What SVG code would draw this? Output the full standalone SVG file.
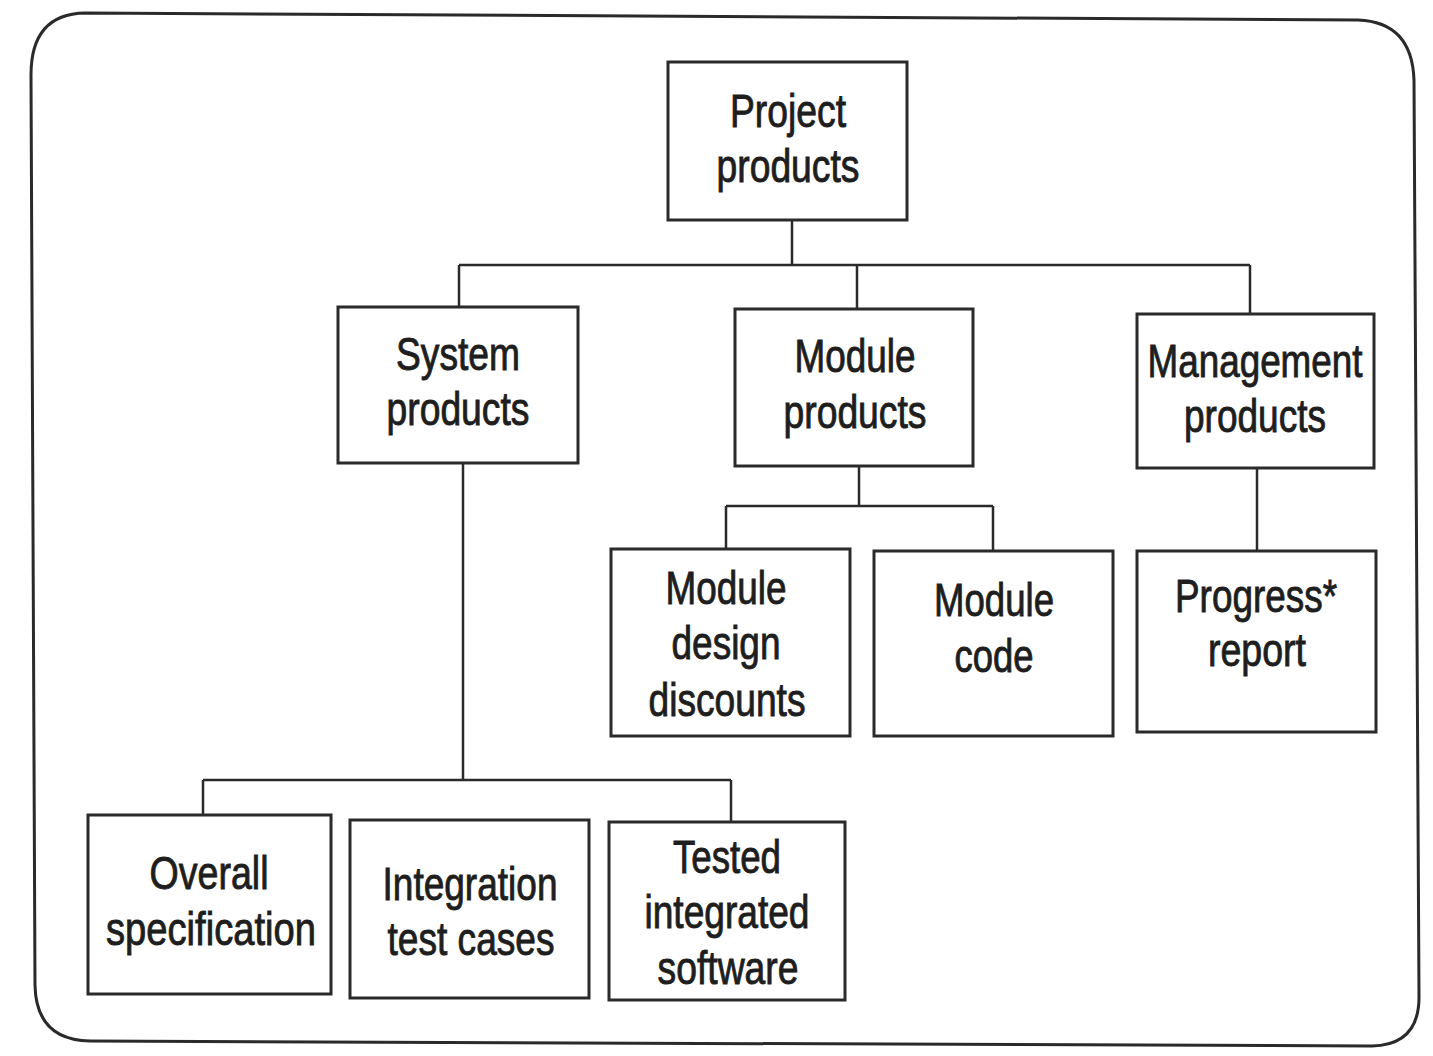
<svg xmlns="http://www.w3.org/2000/svg" width="1433" height="1056" viewBox="0 0 1433 1056">
<style>
.box{fill:#ffffff;stroke:#2a2a2a;stroke-width:3}
.ln{fill:none;stroke:#2a2a2a;stroke-width:2.5}
.t{font-family:"Liberation Sans",Arial,sans-serif;font-size:46px;fill:#1e1e1e;stroke:#1e1e1e;stroke-width:0.9;text-anchor:middle}
</style>
<rect width="1433" height="1056" fill="#ffffff"/>
<path d="M 85 13 L 1358 20 Q 1412 22 1414 80 L 1419 995 Q 1420 1045 1372 1046 L 90 1041 Q 36 1040 35 985 L 31 75 Q 31 14 85 13 Z" fill="none" stroke="#2a2a2a" stroke-width="3"/>
<g id="connectors">
<path class="ln" d="M 792 220 V 265 M 459 265 H 1250 M 459 265 V 307 M 857 265 V 309 M 1250 265 V 314"/>
<path class="ln" d="M 463 463 V 780 M 203 780 H 731 M 203 780 V 815 M 731 780 V 822"/>
<path class="ln" d="M 859 466 V 506 M 726 506 H 993 M 726 506 V 549 M 993 506 V 551"/>
<path class="ln" d="M 1257 468 V 551"/>
</g>
<g id="project-products">
<rect class="box" x="668" y="62" width="239" height="158"/>
<text class="t" x="788" y="127" textLength="116" lengthAdjust="spacingAndGlyphs">Project</text>
<text class="t" x="788" y="182" textLength="143" lengthAdjust="spacingAndGlyphs">products</text>
</g>
<g id="system-products">
<rect class="box" x="338" y="307" width="240" height="156"/>
<text class="t" x="458" y="370" textLength="124" lengthAdjust="spacingAndGlyphs">System</text>
<text class="t" x="458" y="425" textLength="143" lengthAdjust="spacingAndGlyphs">products</text>
</g>
<g id="module-products">
<rect class="box" x="735" y="309" width="238" height="157"/>
<text class="t" x="855" y="372" textLength="121" lengthAdjust="spacingAndGlyphs">Module</text>
<text class="t" x="855" y="428" textLength="143" lengthAdjust="spacingAndGlyphs">products</text>
</g>
<g id="management-products">
<rect class="box" x="1137" y="314" width="237" height="154"/>
<text class="t" x="1255" y="377" textLength="215" lengthAdjust="spacingAndGlyphs">Management</text>
<text class="t" x="1255" y="432" textLength="142" lengthAdjust="spacingAndGlyphs">products</text>
</g>
<g id="module-design-discounts">
<rect class="box" x="611" y="549" width="239" height="187"/>
<text class="t" x="726" y="604" textLength="121" lengthAdjust="spacingAndGlyphs">Module</text>
<text class="t" x="726" y="659" textLength="109" lengthAdjust="spacingAndGlyphs">design</text>
<text class="t" x="727" y="716" textLength="157" lengthAdjust="spacingAndGlyphs">discounts</text>
</g>
<g id="module-code">
<rect class="box" x="874" y="551" width="239" height="185"/>
<text class="t" x="994" y="616" textLength="120" lengthAdjust="spacingAndGlyphs">Module</text>
<text class="t" x="994" y="672" textLength="79" lengthAdjust="spacingAndGlyphs">code</text>
</g>
<g id="progress-report">
<rect class="box" x="1137" y="551" width="239" height="181"/>
<text class="t" x="1256" y="612" textLength="162" lengthAdjust="spacingAndGlyphs">Progress*</text>
<text class="t" x="1257" y="666" textLength="98" lengthAdjust="spacingAndGlyphs">report</text>
</g>
<g id="overall-specification">
<rect class="box" x="88" y="815" width="243" height="179"/>
<text class="t" x="209" y="889" textLength="119" lengthAdjust="spacingAndGlyphs">Overall</text>
<text class="t" x="211" y="945" textLength="210" lengthAdjust="spacingAndGlyphs">specification</text>
</g>
<g id="integration-test-cases">
<rect class="box" x="350" y="820" width="239" height="178"/>
<text class="t" x="470" y="900" textLength="175" lengthAdjust="spacingAndGlyphs">Integration</text>
<text class="t" x="471" y="955" textLength="167" lengthAdjust="spacingAndGlyphs">test cases</text>
</g>
<g id="tested-integrated-software">
<rect class="box" x="609" y="822" width="236" height="178"/>
<text class="t" x="727" y="873" textLength="108" lengthAdjust="spacingAndGlyphs">Tested</text>
<text class="t" x="727" y="928" textLength="165" lengthAdjust="spacingAndGlyphs">integrated</text>
<text class="t" x="728" y="984" textLength="141" lengthAdjust="spacingAndGlyphs">software</text>
</g>
</svg>
